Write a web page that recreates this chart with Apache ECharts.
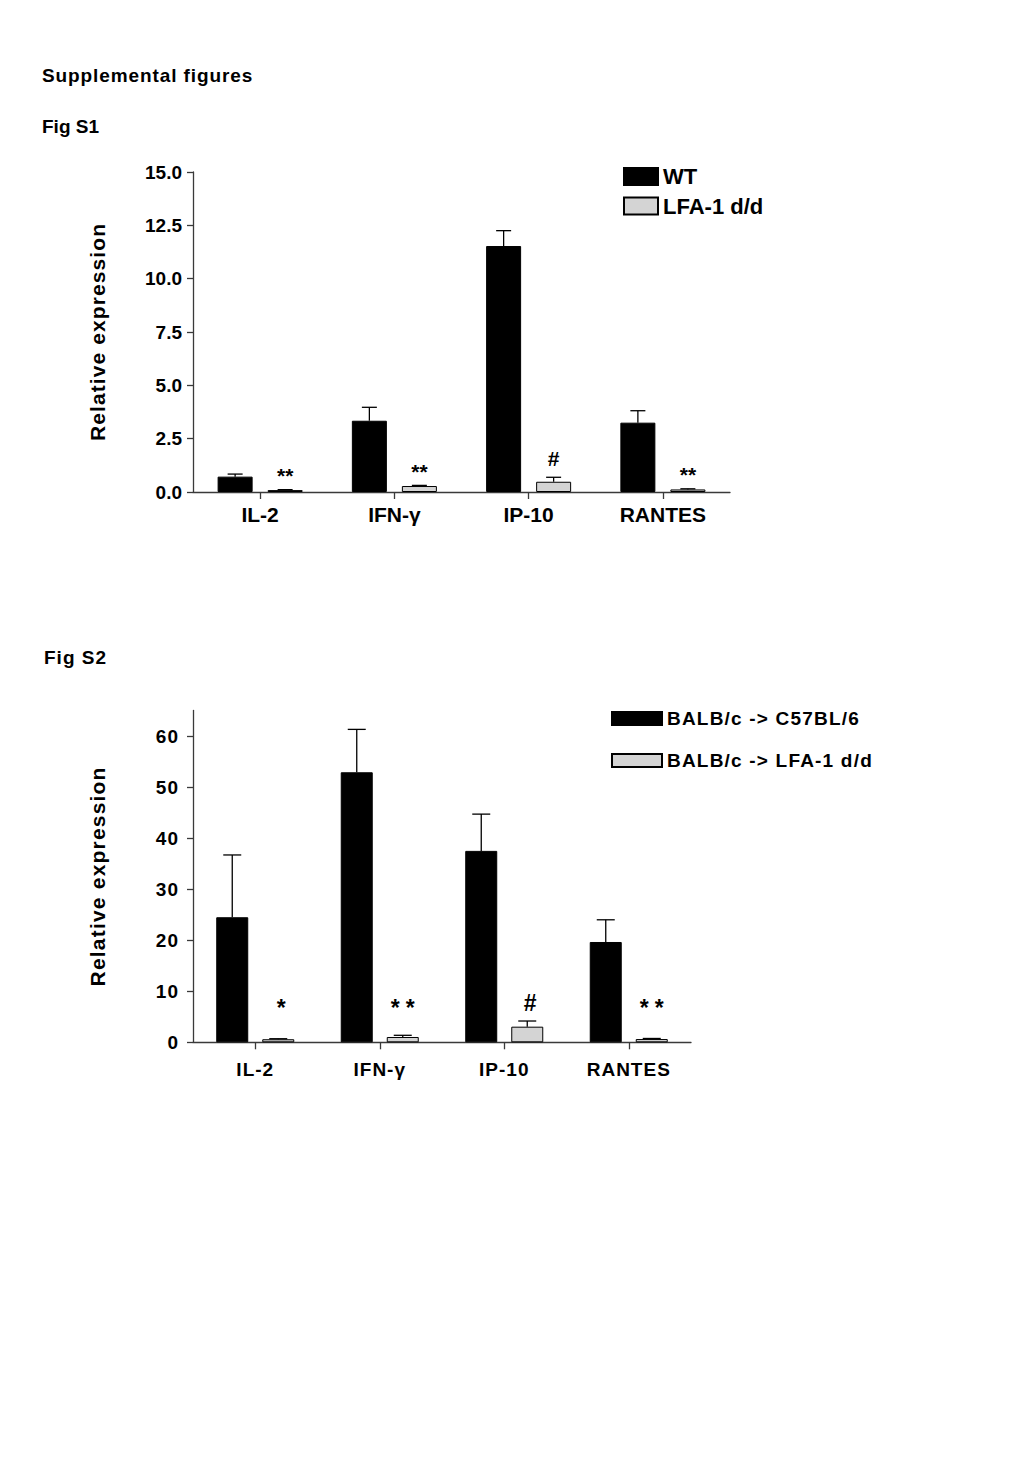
<!DOCTYPE html>
<html>
<head>
<meta charset="utf-8">
<script src="https://cdn.jsdelivr.net/npm/echarts@6/dist/echarts.min.js"></script>
<style>
html, body { margin: 0; padding: 0; background: #fff; }
.c { position: absolute; left: 0; top: 0; width: 1024px; height: 1479px; }
#c2 text { letter-spacing: 1px; }
</style>
</head>
<body>
<div id="c1" class="c"></div>
<div id="c2" class="c"></div>
<script>
// ---------- Fig S1 data ----------
const categories1 = ['IL-2', 'IFN-γ', 'IP-10', 'RANTES'];
const seriesNames1 = ['WT', 'LFA-1 d/d'];
const wt1 = [0.72, 3.34, 11.53, 3.25];
const wt1Err = [0.12, 0.63, 0.72, 0.56];
const lfa1 = [0.09, 0.28, 0.48, 0.12];
const lfa1Err = [0.02, 0.03, 0.21, 0.03];
const annot1 = ['**', '**', '#', '**'];
const yTicks1 = [0, 2.5, 5, 7.5, 10, 12.5, 15];

// ---------- Fig S2 data ----------
const categories2 = ['IL-2', 'IFN-γ', 'IP-10', 'RANTES'];
const seriesNames2 = ['BALB/c -> C57BL/6', 'BALB/c -> LFA-1 d/d'];
const wt2 = [24.5, 52.9, 37.5, 19.65];
const wt2Err = [12.2, 8.4, 7.2, 4.35];
const lfa2 = [0.6, 1.04, 3.06, 0.64];
const lfa2Err = [0.1, 0.33, 1.11, 0.11];
const annot2 = ['*', '**', '#', '**'];
const yTicks2 = [0, 10, 20, 30, 40, 50, 60];

const FONT = '"Liberation Sans", Arial, Helvetica, sans-serif';
const AXIS_COLOR = '#3a3a3a';

function errRender(offset, cap) {
  return function (params, api) {
    const i = api.value(0);
    const p0 = api.coord([i, api.value(1)]);
    const p1 = api.coord([i, api.value(2)]);
    const x = p0[0] + offset;
    const st = { stroke: '#000', lineWidth: 1.3 };
    return {
      type: 'group',
      children: [
        { type: 'line', shape: { x1: x, y1: p0[1], x2: x, y2: p1[1] }, style: st },
        { type: 'line', shape: { x1: x - cap / 2, y1: p1[1], x2: x + cap / 2, y2: p1[1] }, style: st }
      ]
    };
  };
}

function annotRender(labels, offset, gap, floorVal, fs) {
  return function (params, api) {
    const i = api.value(0);
    const p = api.coord([i, api.value(1)]);
    const pf = api.coord([i, floorVal]);
    const txt = labels[params.dataIndex];
    let y = Math.min(p[1] - gap, pf[1]);
    if (txt.indexOf('*') >= 0) y += 0.23 * fs;
    return {
      type: 'text',
      x: p[0] + offset,
      y: y,
      style: {
        text: txt,
        align: 'center',
        verticalAlign: 'middle',
        fill: '#000',
        font: 'bold ' + fs + 'px ' + FONT
      }
    };
  };
}

function buildOption(cfg) {
  const errData = (v, e) => v.map((val, i) => [i, val, val + e[i]]);
  const topData = (v, e) => v.map((val, i) => [i, val + e[i]]);
  const half = (cfg.barWidth + cfg.barGapPx) / 2;
  return {
    animation: false,
    backgroundColor: 'transparent',
    textStyle: { fontFamily: FONT },
    grid: Object.assign({ outerBoundsMode: 'none', containLabel: false }, cfg.grid),
    legend: [
      {
        data: [cfg.names[0]], left: cfg.legendLeft, top: cfg.legendTops[0], padding: 0,
        icon: 'rect', itemWidth: cfg.legendItem[0], itemHeight: cfg.legendItem[1], itemGap: 0,
        selectedMode: false,
        textStyle: { color: '#000', fontSize: cfg.legendFont, fontWeight: 'bold', fontFamily: FONT, lineHeight: cfg.legendFont + 1 }
      },
      {
        data: [cfg.names[1]], left: cfg.legendLeft, top: cfg.legendTops[1], padding: 0,
        icon: 'rect', itemWidth: cfg.legendItem[0], itemHeight: cfg.legendItem[1], itemGap: 0,
        selectedMode: false,
        textStyle: { color: '#000', fontSize: cfg.legendFont, fontWeight: 'bold', fontFamily: FONT, lineHeight: cfg.legendFont + 1 }
      }
    ],
    xAxis: {
      type: 'category',
      data: cfg.categories,
      axisLine: { show: true, lineStyle: { color: AXIS_COLOR, width: 1.3 } },
      axisTick: { show: true, alignWithLabel: true, length: 7, lineStyle: { color: AXIS_COLOR, width: 1.3 } },
      axisLabel: { color: '#000', fontSize: cfg.xFont, fontWeight: 'bold', fontFamily: FONT, margin: cfg.xMargin },
      splitLine: { show: false }
    },
    yAxis: {
      type: 'value',
      min: 0,
      max: cfg.yMax,
      interval: cfg.yInterval,
      name: 'Relative expression',
      nameLocation: 'middle',
      nameRotate: 90,
      nameGap: cfg.nameGap,
      nameTextStyle: { color: '#000', fontSize: 21, fontWeight: 'bold', fontFamily: FONT },
      axisLine: { show: true, lineStyle: { color: AXIS_COLOR, width: 1.3 } },
      axisTick: { show: true, length: 6, customValues: cfg.yTicks, lineStyle: { color: AXIS_COLOR, width: 1.3 } },
      axisLabel: {
        color: '#000', fontSize: 19, fontWeight: 'bold', fontFamily: FONT, margin: cfg.yMargin,
        customValues: cfg.yTicks, formatter: cfg.yFormatter
      },
      splitLine: { show: false }
    },
    series: [
      {
        name: cfg.names[0], type: 'bar', data: cfg.wt, barWidth: cfg.barWidth,
        barGap: (cfg.barGapPx / cfg.barWidth * 100).toFixed(1) + '%',
        itemStyle: { color: '#000', borderColor: '#000', borderWidth: 1 }
      },
      {
        name: cfg.names[1], type: 'bar', data: cfg.lfa, barWidth: cfg.barWidth,
        barGap: (cfg.barGapPx / cfg.barWidth * 100).toFixed(1) + '%',
        itemStyle: { color: '#d4d4d4', borderColor: '#000', borderWidth: 1 }
      },
      {
        type: 'custom', data: errData(cfg.wt, cfg.wtErr), encode: { x: 0, y: [1, 2] },
        renderItem: errRender(-half, cfg.cap), z: 5, silent: true
      },
      {
        type: 'custom', data: errData(cfg.lfa, cfg.lfaErr), encode: { x: 0, y: [1, 2] },
        renderItem: errRender(half, cfg.cap), z: 5, silent: true
      },
      {
        type: 'custom', data: topData(cfg.lfa, cfg.lfaErr), encode: { x: 0, y: 1 },
        renderItem: annotRender(cfg.annot, half + cfg.annotDx, cfg.annotGap, cfg.annotFloor, cfg.annotFont), z: 6, silent: true
      }
    ],
    graphic: cfg.graphic
  };
}

const opt1 = buildOption({
  categories: categories1, names: seriesNames1,
  wt: wt1, wtErr: wt1Err, lfa: lfa1, lfaErr: lfa1Err, annot: annot1,
  yTicks: yTicks1, yMax: 15, yInterval: 2.5,
  yFormatter: v => v.toFixed(1),
  grid: { left: 193, top: 172, width: 537, height: 320 },
  barWidth: 35, barGapPx: 15, cap: 15,
  xFont: 21, xMargin: 12, yMargin: 11, nameGap: 85,
  legendLeft: 623, legendTops: [165, 194.5], legendItem: [34, 17], legendFont: 22,
  annotGap: 19, annotFloor: 0, annotFont: 21, annotDx: 0,
  graphic: [
    { type: 'text', x: 42, y: 75, style: { text: 'Supplemental figures', fill: '#000', font: 'bold 19px ' + FONT, verticalAlign: 'middle' } },
    { type: 'text', x: 42, y: 126, style: { text: 'Fig S1', fill: '#000', font: 'bold 19px ' + FONT, verticalAlign: 'middle' } }
  ]
});

const opt2 = buildOption({
  categories: categories2, names: seriesNames2,
  wt: wt2, wtErr: wt2Err, lfa: lfa2, lfaErr: lfa2Err, annot: annot2,
  yTicks: yTicks2, yMax: 65, yInterval: 10,
  yFormatter: v => String(v),
  grid: { left: 193, top: 710.5, width: 498, height: 331.8 },
  barWidth: 32, barGapPx: 14, cap: 18,
  xFont: 19, xMargin: 18, yMargin: 14, nameGap: 85,
  legendLeft: 611, legendTops: [708.5, 750.5], legendItem: [50, 13], legendFont: 19,
  annotGap: 18, annotFloor: 7.7, annotFont: 23, annotDx: 3,
  graphic: [
    { type: 'text', x: 44, y: 657, style: { text: 'Fig S2', fill: '#000', font: 'bold 19px ' + FONT, verticalAlign: 'middle' } }
  ]
});

const chart1 = echarts.init(document.getElementById('c1'), null, { renderer: 'svg', width: 1024, height: 1479 });
chart1.setOption(opt1);
const chart2 = echarts.init(document.getElementById('c2'), null, { renderer: 'svg', width: 1024, height: 1479 });
chart2.setOption(opt2);

const spacing1 = { 'Supplemental figures': 0.9, 'Relative expression': 1.1 };
const spacing2 = { '**': 6, '*': 0, '#': 0, 'Relative expression': 1.2, 'BALB/c -> C57BL/6': 1.2, 'BALB/c -> LFA-1 d/d': 1.2 };
function applySpacing(id, map) {
  document.querySelectorAll('#' + id + ' text').forEach(t => {
    const s = map[t.textContent];
    if (s !== undefined) t.style.letterSpacing = s + 'px';
  });
}
function applyAll() { applySpacing('c1', spacing1); applySpacing('c2', spacing2); }
applyAll();
chart1.on('finished', applyAll);
chart2.on('finished', applyAll);
setTimeout(applyAll, 50);
</script>
</body>
</html>
